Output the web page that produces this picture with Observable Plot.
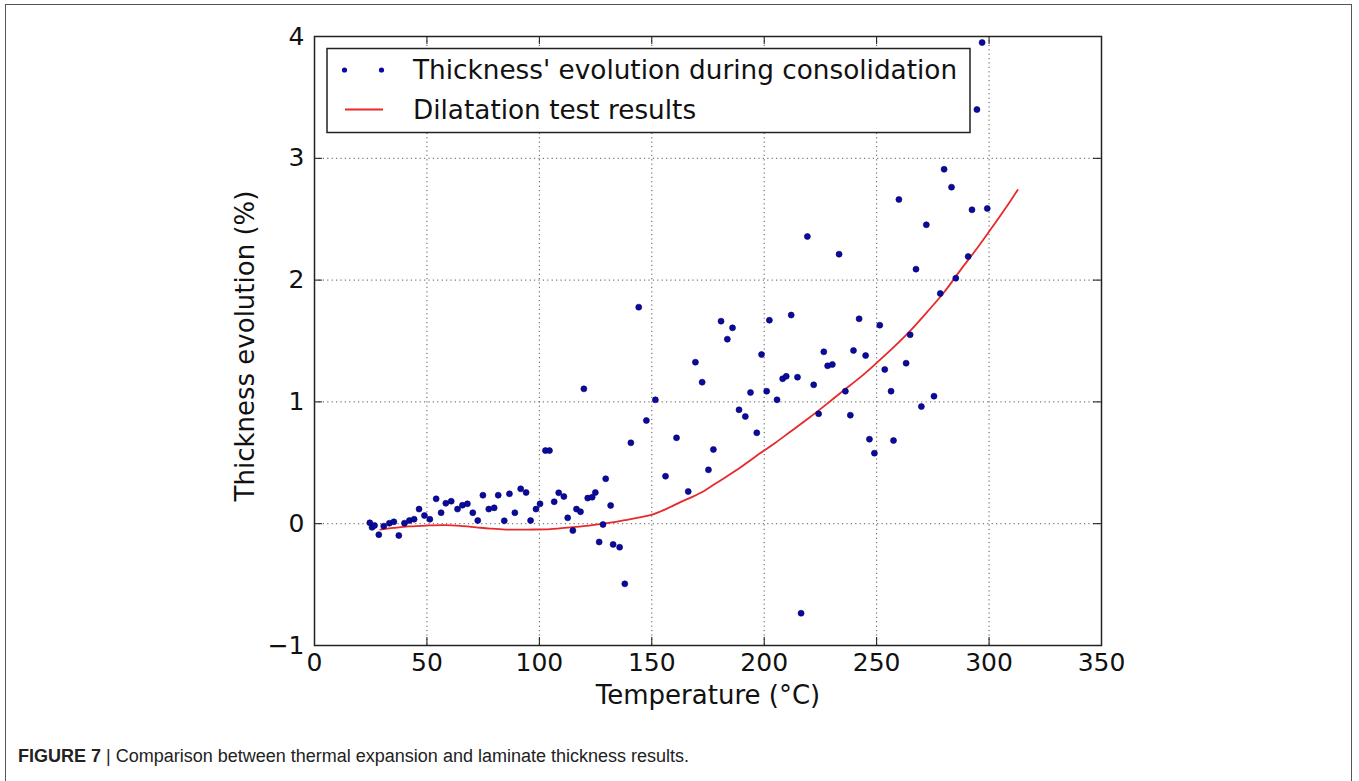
<!DOCTYPE html>
<html>
<head>
<meta charset="utf-8">
<script src="https://cdn.jsdelivr.net/npm/d3@7"></script>
<script src="https://cdn.jsdelivr.net/npm/@observablehq/plot@0.6"></script>
<style>
  html, body { margin: 0; padding: 0; background: #fff; }
  body { width: 1359px; height: 781px; position: relative; overflow: hidden; }
  #frame { position: absolute; left: 5px; top: 4px; width: 1347px; height: 900px; border: 1.5px solid #555; box-sizing: border-box; }
  #chart { position: absolute; left: 0; top: 0; }
  #legend { position: absolute; left: 0; top: 0; }
  #caption { position: absolute; left: 18px; top: 746px; font-family: "Liberation Sans Narrow", "Liberation Sans", Arial, sans-serif; font-size: 18px; color: #222; white-space: nowrap; }
  #caption b { font-weight: bold; }
</style>
</head>
<body>
<div id="frame"></div>
<div id="chart"></div>
<svg id="legend" width="1359" height="200"></svg>
<div id="caption"><b>FIGURE 7</b> | Comparison between thermal expansion and laminate thickness results.</div>
<script>
// Scatter: thickness evolution during consolidation
const temps = [24.6,25.6,26.7,28.6,30.8,33.3,35.3,37.5,40.0,42.2,44.3,46.5,48.9,51.3,54.1,56.3,58.4,60.8,63.6,65.8,68.0,70.4,72.6,74.9,77.5,79.9,81.7,84.4,86.7,89.1,91.7,94.1,96.1,98.5,100.3,102.7,104.5,106.6,108.6,110.9,112.6,114.9,116.5,118.3,119.8,121.5,123.5,124.9,126.6,128.3,129.5,131.7,132.8,135.7,138.0,140.7,144.2,147.6,151.6,156.1,161.0,166.2,169.4,172.4,175.2,177.4,180.8,183.6,185.9,188.8,191.6,193.9,196.7,198.8,201.1,202.3,205.7,208.2,209.8,212.0,214.8,216.4,219.2,222.0,224.2,226.5,228.2,230.3,233.3,236.1,238.3,239.7,242.2,245.1,246.8,249.0,251.4,253.6,256.4,257.5,259.9,263.1,264.9,267.5,269.9,272.1,275.5,278.3,280.0,283.3,285.2,290.7,292.4,294.6,296.9,299.2];
const thick = [0.007,-0.03,-0.015,-0.09,-0.02,0.004,0.015,-0.097,0.004,0.026,0.037,0.12,0.067,0.037,0.204,0.09,0.168,0.185,0.12,0.152,0.163,0.09,0.026,0.234,0.12,0.13,0.234,0.024,0.245,0.09,0.286,0.256,0.026,0.12,0.163,0.6,0.6,0.18,0.254,0.223,0.048,-0.056,0.12,0.098,1.107,0.21,0.218,0.256,-0.15,-0.007,0.369,0.15,-0.17,-0.193,-0.494,0.664,1.778,0.847,1.017,0.39,0.705,0.264,1.326,1.162,0.442,0.609,1.663,1.515,1.608,0.935,0.88,1.077,0.746,1.389,1.088,1.671,1.017,1.19,1.21,1.713,1.203,-0.735,2.358,1.14,0.902,1.411,1.296,1.307,2.213,1.088,0.891,1.422,1.682,1.381,0.694,0.579,1.63,1.266,1.088,0.683,2.662,1.318,1.551,2.09,0.962,2.454,1.047,1.89,2.91,2.763,2.016,2.194,2.577,3.40,3.95,2.588];

// Line: dilatation test results
const dilT = [29.3,35,42,50,58,65,72,78,85,95,105,115,122,128.5,134,139,144,149.4,153.8,158,162.7,168,173.1,178,183.5,190,198.3,205,211.6,220,227.9,235,242.8,250,257.6,265,272.4,280,287.2,295,302,309.5,312.7];
const dilY = [-0.048,-0.035,-0.022,-0.015,-0.012,-0.018,-0.03,-0.04,-0.048,-0.048,-0.045,-0.028,-0.015,0.0,0.015,0.032,0.05,0.07,0.1,0.135,0.177,0.22,0.267,0.325,0.39,0.47,0.58,0.665,0.755,0.87,0.984,1.09,1.203,1.32,1.449,1.585,1.737,1.9,2.08,2.27,2.45,2.65,2.74];

const xTicks = [0,50,100,150,200,250,300,350];
const yTicks = [-1,0,1,2,3,4];
const seriesNames = ["Thickness' evolution during consolidation", "Dilatation test results"];
const xLabel = "Temperature (°C)";
const yLabel = "Thickness evolution (%)";

const pts = temps.map((t, i) => ({t, v: thick[i]}));
const line = dilT.map((t, i) => ({t, v: dilY[i]}));

const W = 1359, H = 720;
const FONT = "DejaVu Sans, sans-serif";
const DOT = "#0a0a9e", RED = "#e8292b";
const fmt = d3.format("d");

const chart = Plot.plot({
  width: W, height: H,
  marginLeft: 314, marginRight: W - 1101, marginTop: 36, marginBottom: H - 645,
  style: {fontFamily: FONT, color: "#111", background: "transparent"},
  x: {domain: [0, 350], ticks: xTicks},
  y: {domain: [-1, 4], ticks: yTicks},
  marks: [
    Plot.gridX(xTicks, {stroke: "#222", strokeOpacity: 0.75, strokeDasharray: "1.2,3.2", strokeWidth: 1}),
    Plot.gridY(yTicks, {stroke: "#222", strokeOpacity: 0.75, strokeDasharray: "1.2,3.2", strokeWidth: 1}),
    // inward ticks on all four sides
    Plot.ruleX(xTicks, {x: d => d, insetTop: 609 - 8, stroke: "#111", strokeWidth: 1}),
    Plot.ruleX(xTicks, {x: d => d, insetBottom: 609 - 8, stroke: "#111", strokeWidth: 1}),
    Plot.ruleY(yTicks, {y: d => d, insetRight: 787 - 8, stroke: "#111", strokeWidth: 1}),
    Plot.ruleY(yTicks, {y: d => d, insetLeft: 787 - 8, stroke: "#111", strokeWidth: 1}),
    Plot.line(line, {x: "t", y: "v", stroke: RED, strokeWidth: 1.8, curve: "catmull-rom"}),
    Plot.dot(pts, {x: "t", y: "v", r: 3, fill: DOT, stroke: "#000066", strokeWidth: 0.6}),
    Plot.frame({stroke: "#222", strokeWidth: 1.5}),
    Plot.axisX(xTicks, {tickSize: 0, tickPadding: 8, fontSize: 25, label: null, fill: "#111", tickFormat: fmt}),
    Plot.axisY(yTicks, {tickSize: 0, tickPadding: 10, fontSize: 25, label: null, fill: "#111", tickFormat: fmt}),
    Plot.text([xLabel], {frameAnchor: "bottom", dy: 50, fontSize: 26, fill: "#111", textAnchor: "middle", lineAnchor: "middle"}),
    Plot.text([yLabel], {frameAnchor: "left", dx: -69, dy: 5, rotate: -90, fontSize: 26, fill: "#111", textAnchor: "middle", lineAnchor: "middle"})
  ]
});
document.getElementById("chart").appendChild(chart);

// Legend overlay (inside plot frame, upper-left)
const lg = d3.select("#legend");
lg.append("rect").attr("x", 327).attr("y", 48.5).attr("width", 643).attr("height", 84)
  .attr("fill", "#fff").attr("stroke", "#222").attr("stroke-width", 1.5);
[344.5, 381.5].forEach(cx => lg.append("circle").attr("cx", cx).attr("cy", 70).attr("r", 2.6).attr("fill", DOT));
lg.append("line").attr("x1", 345).attr("x2", 383).attr("y1", 109.5).attr("y2", 109.5)
  .attr("stroke", RED).attr("stroke-width", 1.8);
seriesNames.forEach((s, i) => lg.append("text").attr("x", 413).attr("y", 70 + i * 39.5)
  .attr("dy", "0.36em").attr("font-family", FONT).attr("font-size", 26.3).attr("fill", "#111").text(s));
</script>
</body>
</html>
